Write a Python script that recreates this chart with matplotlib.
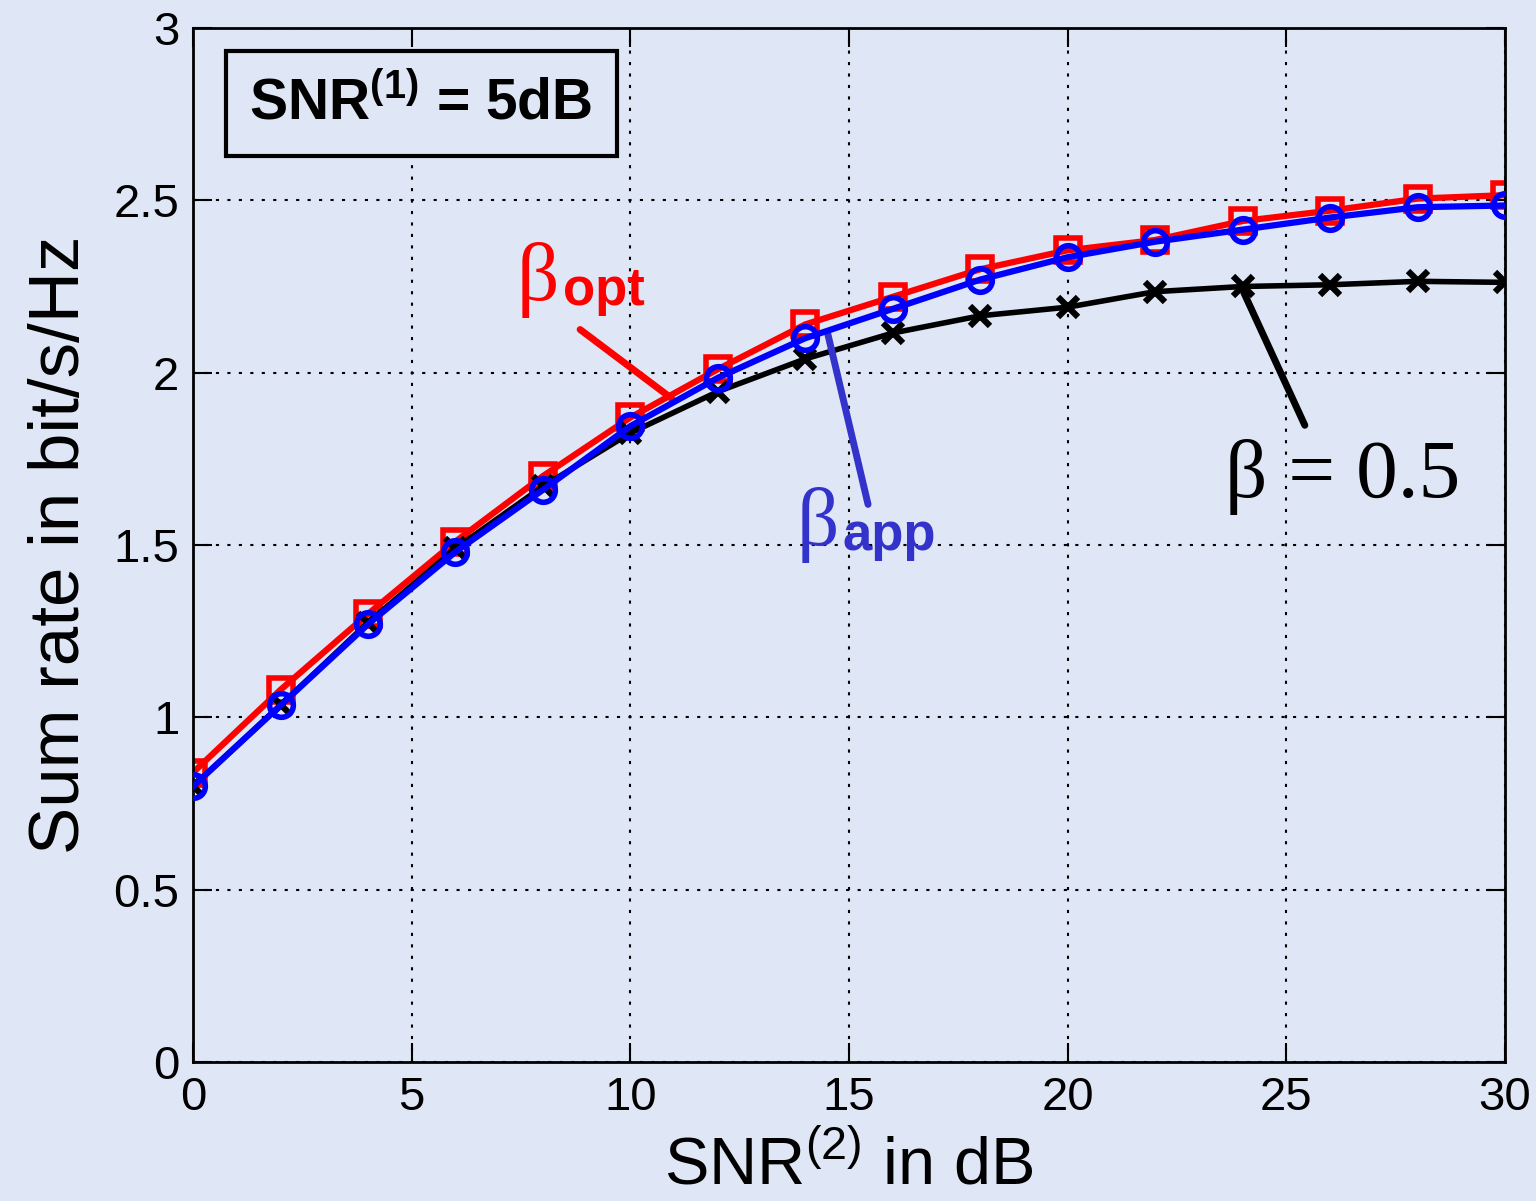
import matplotlib.pyplot as plt
import numpy as np

# data
snr2 = [0, 2, 4, 6, 8, 10, 12, 14, 16, 18, 20, 22, 24, 26, 28, 30]
rate_opt = [0.84, 1.08, 1.30, 1.51, 1.70, 1.87, 2.01, 2.14, 2.22, 2.30, 2.355,
            2.385, 2.44, 2.47, 2.505, 2.515]
rate_app = [0.80, 1.035, 1.27, 1.48, 1.66, 1.845, 1.985, 2.10, 2.185, 2.27, 2.335,
            2.38, 2.415, 2.45, 2.48, 2.485]
rate_half = [0.80, 1.035, 1.275, 1.49, 1.67, 1.825, 1.945, 2.04, 2.115, 2.165, 2.19,
             2.235, 2.25, 2.255, 2.265, 2.262]

bg = '#dfe6f5'
plt.rcParams['font.family'] = ['Liberation Sans', 'DejaVu Sans']
plt.rcParams['mathtext.fontset'] = 'custom'
plt.rcParams['mathtext.rm'] = 'Liberation Sans'
plt.rcParams['mathtext.bf'] = 'Liberation Sans:bold'

fig = plt.figure(figsize=(15.36, 12.01), dpi=100, facecolor=bg)
ax = fig.add_axes([0.1257, 0.1157, 0.8541, 0.861])
ax.set_facecolor(bg)

ax.plot(snr2, rate_half, '-x', color='black', lw=4, ms=14, mew=4.5, zorder=3)
ax.plot(snr2, rate_app, '-o', color='#0000ff', lw=4.5, ms=17, mew=4, mfc='none', zorder=4)
ax.plot(snr2, rate_opt, '-s', color='#ff0000', lw=4.5, ms=17, mew=4, mfc='none', zorder=2)

ax.set_xlim(0, 30)
ax.set_ylim(0, 3)
ax.set_xticks(np.arange(0, 31, 5))
ax.set_yticks(np.arange(0, 3.01, 0.5))
ax.set_yticklabels(['0', '0.5', '1', '1.5', '2', '2.5', '3'])
ax.tick_params(direction='in', length=14, width=1.5, labelsize=34, top=True, right=True, pad=10)
ax.grid(True, color='black', linestyle=(0, (1.5, 4)), lw=1.5)
for s in ax.spines.values():
    s.set_linewidth(2)

ax.set_xlabel(r'SNR$^{\mathrm{(2)}}$ in dB', fontsize=48, labelpad=11)
ax.set_ylabel('Sum rate in bit/s/Hz', fontsize=51, labelpad=14)

# boxed label
ax.text(0.1738, 0.927, r'SNR$^{\mathbf{(1)}}$ = 5dB', transform=ax.transAxes, fontsize=41,
        fontweight='bold', ha='center', va='center',
        bbox=dict(boxstyle='square,pad=0.42', fc=bg, ec='black', lw=3))

# annotations
ax.annotate('', xy=(11.0, 1.92), xytext=(8.8, 2.13),
            arrowprops=dict(arrowstyle='-', color='#ff0000', lw=5))
ax.text(7.4, 2.21, 'β', color='#ff0000', fontsize=60, family='Liberation Serif',
        ha='left', va='baseline')
ax.text(8.45, 2.195, 'opt', color='#ff0000', fontsize=38, fontweight='bold', va='baseline')

ax.annotate('', xy=(14.5, 2.12), xytext=(15.45, 1.61),
            arrowprops=dict(arrowstyle='-', color='#3333cc', lw=5))
ax.text(13.8, 1.50, 'β', color='#3333cc', fontsize=60, family='Liberation Serif',
        ha='left', va='baseline')
ax.text(14.85, 1.485, 'app', color='#3333cc', fontsize=38, fontweight='bold', va='baseline')

ax.annotate('', xy=(24.0, 2.24), xytext=(25.45, 1.84),
            arrowprops=dict(arrowstyle='-', color='black', lw=5))
ax.text(23.6, 1.64, 'β = 0.5', color='black', fontsize=60, family='Liberation Serif',
        ha='left', va='baseline')

fig.savefig('out.png', dpi=100, facecolor=bg)
